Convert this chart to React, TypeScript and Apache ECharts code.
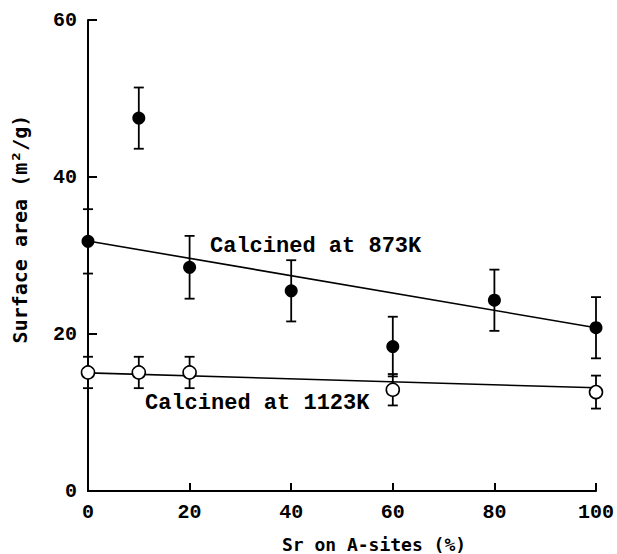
import React, { useEffect, useRef } from "react";
import * as echarts from "echarts";

const xTicks = [0, 20, 40, 60, 80, 100];
const yTicks = [0, 20, 40, 60];

const x873 = [0, 10, 20, 40, 60, 80, 100];
const y873 = [31.8, 47.5, 28.5, 25.5, 18.4, 24.3, 20.8];
const err873 = [4.1, 3.9, 4.0, 3.9, 3.8, 3.9, 3.9];

const x1123 = [0, 10, 20, 60, 100];
const y1123 = [15.1, 15.1, 15.1, 12.9, 12.6];
const err1123 = [2.0, 2.0, 2.0, 2.0, 2.1];

const fitX = [0, 100];
const fit873 = [31.85, 20.8];
const fit1123 = [15.05, 13.15];

const label873 = "Calcined at 873K";
const label1123 = "Calcined at 1123K";
const xName = "Sr on A-sites (%)";
const yName = "Surface area (m²/g)";

const INK = "#000";
const MONO = "'Liberation Mono', 'DejaVu Sans Mono', monospace";
const SANSMONO = "'DejaVu Sans Mono', monospace";

function errorRender(params: any, api: any) {
  const x = api.value(0);
  const y = api.value(1);
  const e = api.value(2);
  const top = api.coord([x, y + e]);
  const bot = api.coord([x, y - e]);
  const hw = 5;
  const st = { stroke: INK, lineWidth: 1.8 };
  return {
    type: "group",
    children: [
      { type: "line", shape: { x1: top[0], y1: top[1], x2: bot[0], y2: bot[1] }, style: st },
      { type: "line", shape: { x1: top[0] - hw, y1: top[1], x2: top[0] + hw, y2: top[1] }, style: st },
      { type: "line", shape: { x1: bot[0] - hw, y1: bot[1], x2: bot[0] + hw, y2: bot[1] }, style: st },
    ],
  };
}

export default function App() {
  const ref = useRef<HTMLDivElement>(null);
  useEffect(() => {
    if (!ref.current) return;
    const chart = echarts.init(ref.current, null, { renderer: "svg" });
    const d873 = x873.map((x, i) => [x, y873[i]]);
    const d1123 = x1123.map((x, i) => [x, y1123[i]]);
    const e873 = x873.map((x, i) => [x, y873[i], err873[i]]);
    const e1123 = x1123.map((x, i) => [x, y1123[i], err1123[i]]);
    chart.setOption({
      animation: false,
      backgroundColor: "#fff",
      grid: { left: 88, right: 20, top: 20, bottom: 63, containLabel: false },
      xAxis: {
        type: "value",
        min: xTicks[0],
        max: xTicks[xTicks.length - 1],
        interval: 20,
        axisLine: { lineStyle: { color: INK, width: 2 } },
        axisTick: { inside: true, length: 8, lineStyle: { color: INK, width: 2 } },
        axisLabel: { margin: 11, color: INK, fontFamily: MONO, fontSize: 20, fontWeight: "bold" },
        splitLine: { show: false },
      },
      yAxis: {
        type: "value",
        min: yTicks[0],
        max: yTicks[yTicks.length - 1],
        interval: 20,
        axisLine: { show: true, lineStyle: { color: INK, width: 2 } },
        axisTick: { show: true, inside: true, length: 9, lineStyle: { color: INK, width: 2 } },
        axisLabel: { margin: 11, color: INK, fontFamily: MONO, fontSize: 20, fontWeight: "bold" },
        splitLine: { show: false },
      },
      graphic: [
        {
          type: "text",
          left: 210,
          top: 235,
          style: { text: label873, fill: INK, font: `bold 22px ${MONO}` },
        },
        {
          type: "text",
          left: 145,
          top: 392,
          style: { text: label1123, fill: INK, font: `bold 22px ${MONO}` },
        },
        {
          type: "text",
          x: 374,
          y: 544,
          style: { text: xName, fill: INK, font: `bold 18px ${SANSMONO}`, align: "center", verticalAlign: "middle" },
        },
        {
          type: "text",
          x: 20,
          y: 229,
          rotation: Math.PI / 2,
          style: { text: yName, fill: INK, font: `bold 20px ${SANSMONO}`, align: "center", verticalAlign: "middle" },
        },
      ],
      series: [
        {
          type: "line",
          data: fitX.map((x, i) => [x, fit873[i]]),
          showSymbol: false,
          lineStyle: { color: INK, width: 1.6 },
          z: 1,
        },
        {
          type: "line",
          data: fitX.map((x, i) => [x, fit1123[i]]),
          showSymbol: false,
          lineStyle: { color: INK, width: 1.6 },
          z: 1,
        },
        {
          type: "custom",
          data: e873,
          renderItem: errorRender,
          encode: { x: 0, y: 1 },
          z: 2,
        },
        {
          type: "custom",
          data: e1123,
          renderItem: errorRender,
          encode: { x: 0, y: 1 },
          z: 2,
        },
        {
          type: "scatter",
          data: d873,
          symbol: "circle",
          symbolSize: 13,
          itemStyle: { color: INK, opacity: 1 },
          z: 3,
        },
        {
          type: "scatter",
          data: d1123,
          symbol: "circle",
          symbolSize: 13,
          itemStyle: { color: "#fff", borderColor: INK, borderWidth: 1.6, opacity: 1 },
          z: 3,
        },
      ],
    });
    return () => chart.dispose();
  }, []);
  return (
    <div
      ref={ref}
      style={{ position: "absolute", left: 0, top: 0, width: 617, height: 554, background: "#fff" }}
    />
  );
}
